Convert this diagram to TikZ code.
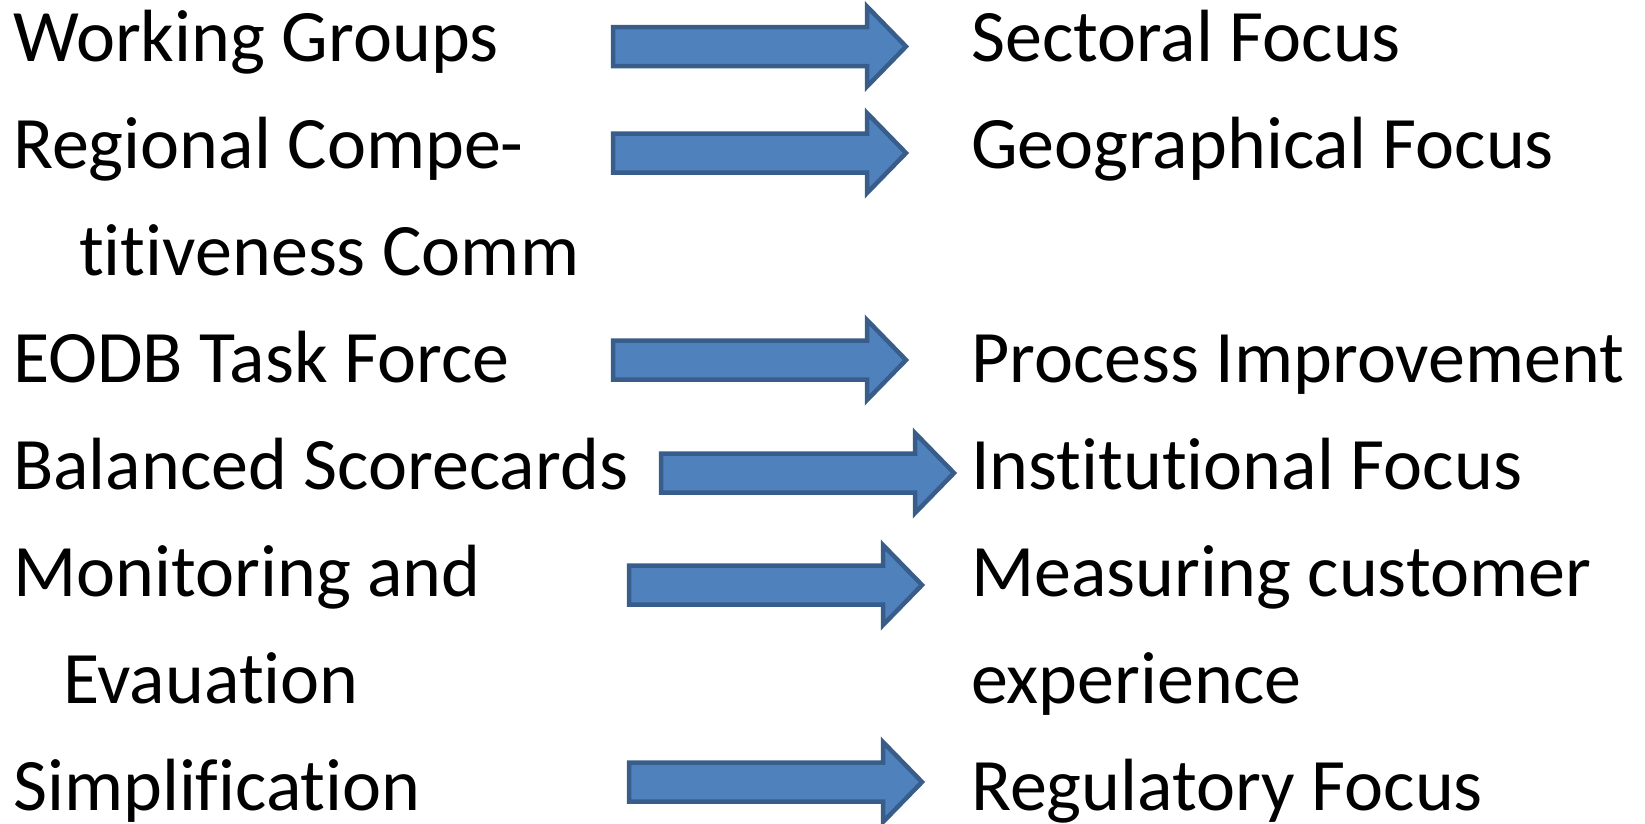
\documentclass[tikz,border=0pt]{standalone}
\usepackage{fontspec}
\setmainfont{Carlito}[Ligatures={NoCommon}]
\definecolor{arrowfill}{HTML}{4F81BD}
\definecolor{arrowline}{HTML}{385D8A}
\begin{document}
\begin{tikzpicture}[x=1pt,y=-1pt,
  lbl/.style={anchor=base west,inner sep=0pt,font=\fontsize{74}{80}\selectfont},
  bigarrow/.pic={\draw[fill=arrowfill,draw=arrowline,line width=4.5pt,line join=miter]
     (0,-19.5) -- (254,-19.5) -- (254,-40) -- (293,0) -- (254,40) -- (254,19.5) -- (0,19.5) -- cycle;}]
\useasboundingbox (0,0) rectangle (1645,823);
% left column
\node[lbl] (l1) at (13,61) {Working Groups};
\node[lbl] (l2) at (13,168) {Regional Compe-};
\node[lbl] (l2b) at (79,275) {titiveness Comm};
\node[lbl] (l3) at (13,382) {EODB Task Force};
\node[lbl] (l4) at (13,489) {Balanced Scorecards};
\node[lbl] (l5) at (13,596) {Monitoring and};
\node[lbl] (l5b) at (63,703) {Evauation};
\node[lbl] (l6) at (13,810) {Simplification};
% right column
\node[lbl] (r1) at (971,61) {Sectoral Focus};
\node[lbl] (r2) at (971,168) {Geographical Focus};
\node[lbl] (r3) at (971,382) {Process Improvement};
\node[lbl] (r4) at (971,489) {Institutional Focus};
\node[lbl] (r5) at (971,596) {Measuring customer};
\node[lbl] (r5b) at (971,703) {experience};
\node[lbl] (r6) at (971,810) {Regulatory Focus};
% arrows
\pic at (613,46.5) {bigarrow};
\pic at (613,153) {bigarrow};
\pic at (613,360) {bigarrow};
\pic at (661,473) {bigarrow};
\pic at (629,585) {bigarrow};
\pic at (629,782) {bigarrow};
\end{tikzpicture}
\end{document}
